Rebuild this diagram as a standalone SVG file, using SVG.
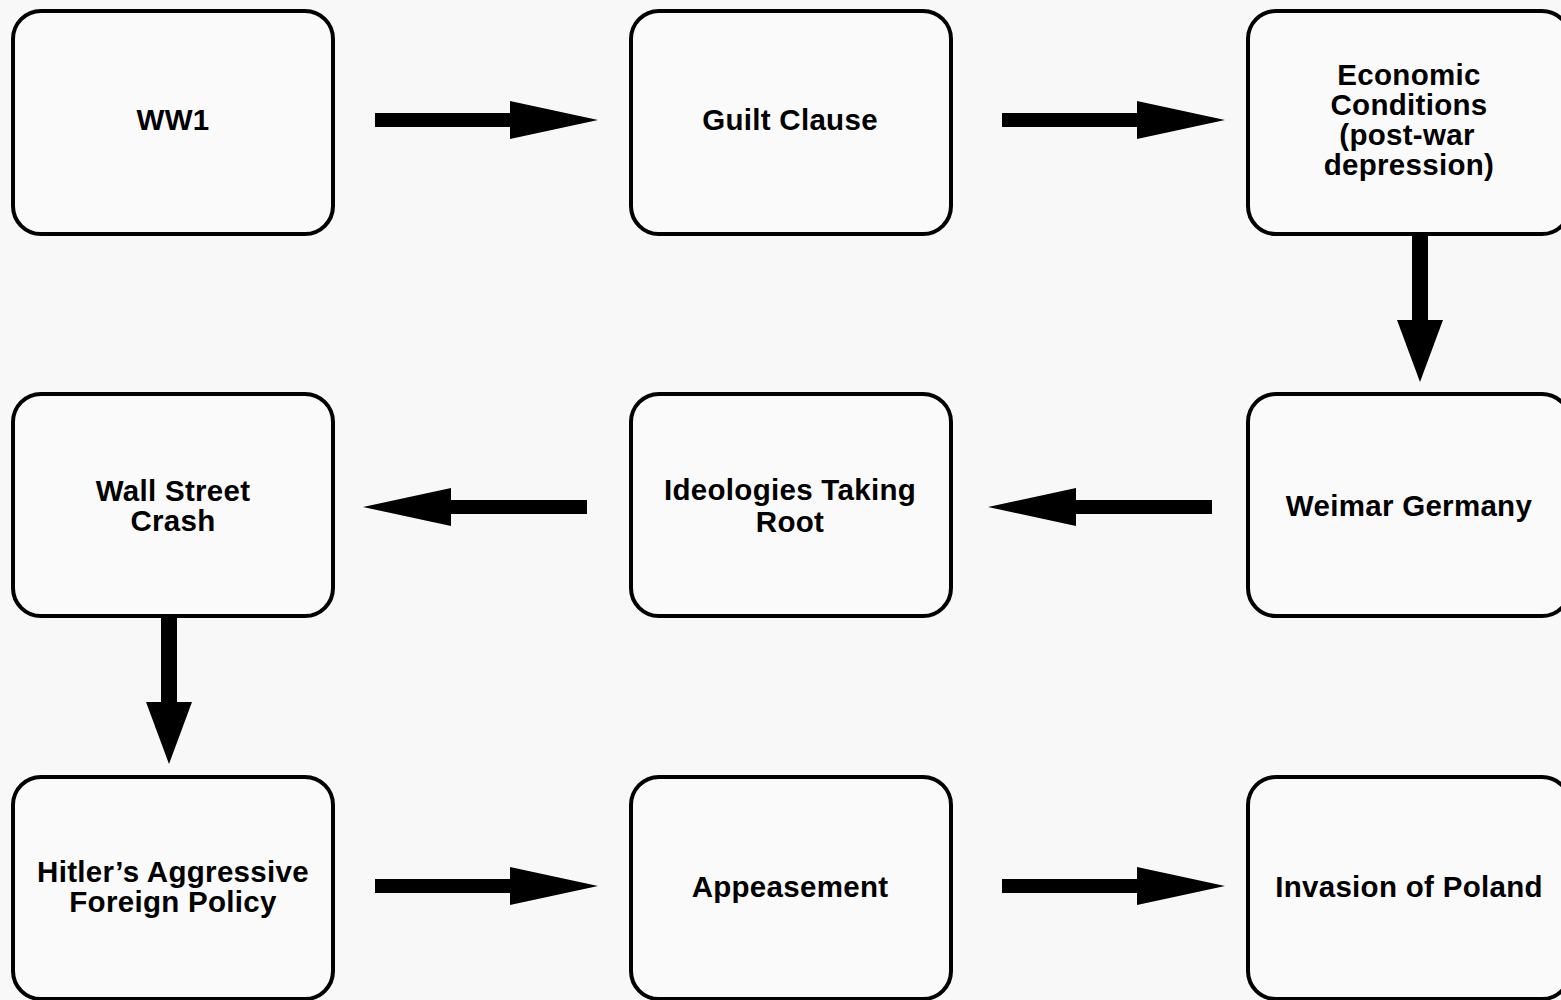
<svg xmlns="http://www.w3.org/2000/svg" width="1561" height="1000" viewBox="0 0 1561 1000">
<style>
.box{fill:#fafafa;stroke:#000;stroke-width:4}
.lbl{font-family:"Liberation Sans",Arial,Helvetica,sans-serif;font-weight:bold;font-size:29.5px;letter-spacing:0.3px;fill:#000;text-anchor:middle}
.h{stroke:#000;stroke-width:14;fill:none;marker-end:url(#hh)}
.v{stroke:#000;stroke-width:16;fill:none;marker-end:url(#vh)}
</style>
<defs>
<marker id="hh" markerUnits="userSpaceOnUse" viewBox="0 0 88 38" markerWidth="88" markerHeight="38" refX="0" refY="19" orient="auto"><path d="M0,0 L88,19 L0,38 z" fill="#000"/></marker>
<marker id="vh" markerUnits="userSpaceOnUse" viewBox="0 0 62 46" markerWidth="62" markerHeight="46" refX="0" refY="23" orient="auto"><path d="M0,0 L62,23 L0,46 z" fill="#000"/></marker>
</defs>
<rect width="1561" height="1000" fill="#f8f8f8"/>
<g id="connectors">
<line class="h" x1="375" y1="120" x2="510" y2="120"/>
<line class="h" x1="1002" y1="120" x2="1137" y2="120"/>
<line class="v" x1="1420" y1="235" x2="1420" y2="320"/>
<line class="h" x1="1212" y1="507" x2="1076" y2="507"/>
<line class="h" x1="587" y1="507" x2="451" y2="507"/>
<line class="v" x1="169" y1="617" x2="169" y2="702"/>
<line class="h" x1="375" y1="886" x2="510" y2="886"/>
<line class="h" x1="1002" y1="886" x2="1137" y2="886"/>
</g>
<g id="ww1"><rect class="box" x="13" y="11" width="320" height="223" rx="28"/><text class="lbl" x="173" y="130">WW1</text></g>
<g id="guilt"><rect class="box" x="631" y="11" width="320" height="223" rx="28"/><text class="lbl" x="790" y="130">Guilt Clause</text></g>
<g id="economic"><rect class="box" x="1248" y="11" width="322" height="223" rx="28"/><text class="lbl" x="1409" y="85">Economic</text><text class="lbl" x="1409" y="115">Conditions</text><text class="lbl" x="1407" y="145">(post-war</text><text class="lbl" x="1409" y="175">depression)</text></g>
<g id="weimar"><rect class="box" x="1248" y="394" width="322" height="222" rx="28"/><text class="lbl" x="1409" y="516">Weimar Germany</text></g>
<g id="ideologies"><rect class="box" x="631" y="394" width="320" height="222" rx="28"/><text class="lbl" x="790" y="500">Ideologies Taking</text><text class="lbl" x="790" y="532">Root</text></g>
<g id="wallstreet"><rect class="box" x="13" y="394" width="320" height="222" rx="28"/><text class="lbl" x="173" y="501">Wall Street</text><text class="lbl" x="173" y="531">Crash</text></g>
<g id="hitler"><rect class="box" x="13" y="777" width="320" height="222" rx="28"/><text class="lbl" x="173" y="882">Hitler’s Aggressive</text><text class="lbl" x="173" y="912">Foreign Policy</text></g>
<g id="appeasement"><rect class="box" x="631" y="777" width="320" height="222" rx="28"/><text class="lbl" x="790" y="897">Appeasement</text></g>
<g id="poland"><rect class="box" x="1248" y="777" width="322" height="222" rx="28"/><text class="lbl" x="1409" y="897">Invasion of Poland</text></g>
</svg>
